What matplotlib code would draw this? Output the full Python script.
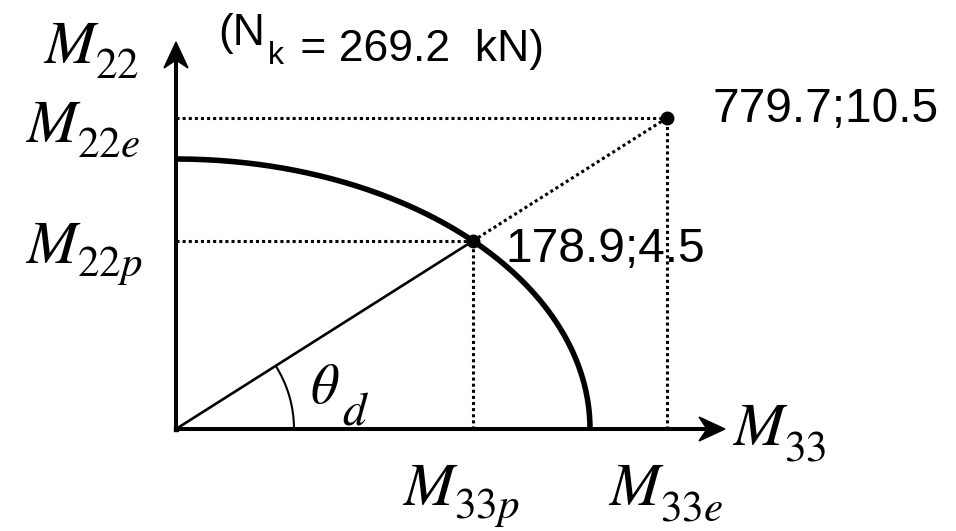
import numpy as np
import matplotlib
matplotlib.use('Agg')
import matplotlib.pyplot as plt
from matplotlib.patches import Arc, Polygon

plt.rcParams['font.family'] = ['Liberation Sans', 'DejaVu Sans']
plt.rcParams['mathtext.fontset'] = 'stix'

# axial load of the section
n_k = 269.2

# moments (kNm): [plastic, elastic]
m33 = [178.9, 779.7]
m22 = [4.5, 10.5]

# schematic layout of the interaction diagram (drawing units)
cap_33, cap_22 = 414, 270          # intercepts of the capacity curve
elastic_pt = (491, 311)            # elastic demand point
axis_len_33, axis_len_22 = 549, 387

fig = plt.figure(figsize=(9.56, 5.31), dpi=100)
ax = fig.add_axes([0, 0, 1, 1])
ax.set_xlim(-176, 780)
ax.set_ylim(-102, 429)
ax.set_aspect('equal')
ax.axis('off')

# capacity curve: quarter ellipse
t = np.linspace(0, np.pi / 2, 200)
ax.plot(cap_33 * np.cos(t), cap_22 * np.sin(t), color='black', lw=4.0,
        solid_capstyle='butt', zorder=3)

# plastic point = where the demand ray crosses the curve
ex, ey = elastic_pt
s = 1.0 / np.sqrt((ex / cap_33) ** 2 + (ey / cap_22) ** 2)
px, py = ex * s, ey * s

dot = dict(color='black', lw=2.2, linestyle=(0, (1, 1)), zorder=2)
ax.plot([0, px], [py, py], **dot)
ax.plot([px, px], [0, py], **dot)
ax.plot([0, ex], [ey, ey], **dot)
ax.plot([ex, ex], [0, ey], **dot)
ax.plot([px, ex], [py, ey], **dot)
ax.plot([0, px], [0, py], color='black', lw=1.9, zorder=3)
ax.plot([px, ex], [py, ey], 'o', color='black', ms=9, zorder=5)

# angle of the demand ray
theta = np.degrees(np.arctan2(ey, ex))
ax.add_patch(Arc((0, 0), 236, 236, theta1=0, theta2=theta,
                 color='black', lw=1.5))


def arrow_head(tip, direction, length=26, half_w=12, notch=8):
    d = np.array(direction, float)
    n = np.array([-d[1], d[0]])
    tip = np.array(tip, float)
    base = tip - d * length
    pts = [tip, base + n * half_w, tip - d * (length - notch), base - n * half_w]
    ax.add_patch(Polygon(pts, closed=True, color='black', zorder=4))


# axes
ax.plot([0, axis_len_33 - 10], [0, 0], color='black', lw=2.9,
        solid_capstyle='butt', zorder=4)
ax.plot([0, 0], [0, axis_len_22 - 10], color='black', lw=2.9,
        solid_capstyle='butt', zorder=4)
ax.plot([0], [0], 's', color='black', ms=2.5, zorder=4)
arrow_head((axis_len_33, 0), (1, 0))
arrow_head((0, axis_len_22), (0, 1))


def sym(x, y, main, sub, size=44, sub_size=31, drop=8, gap=-3):
    # symbol with a large subscript hung off its lower-right corner
    m = ax.text(x, y, '$' + main + '$', fontsize=size, va='baseline', ha='left')
    ax.annotate('$' + sub + '$', xy=(1, 0), xycoords=m, xytext=(gap, -drop),
                textcoords='offset points', fontsize=sub_size, va='bottom')


sym(-133, 366, 'M', '22')
sym(-151, 287, 'M', '22e')
sym(-151, 166, 'M', '22p')
sym(556, -16, 'M', '33')
sym(226, -76, 'M', '33p')
sym(432, -76, 'M', '33e')
sym(134, 26, r'\theta', 'd', size=40, sub_size=34, drop=14, gap=2)

ax.text(537, 307, f'{m33[1]};{m22[1]}', fontsize=34.5, va='baseline', ha='left')
ax.text(329, 167, f'{m33[0]};{m22[0]}', fontsize=34.5, va='baseline', ha='left')

# axial load note, with subscript k
t1 = ax.text(42, 384, '(N', fontsize=32, va='baseline', ha='left')
t2 = ax.annotate('k', xy=(1, 0), xycoords=t1, xytext=(2, -7),
                 textcoords='offset points', fontsize=23, va='baseline')
ax.annotate(f' = {n_k}  kN)', xy=(1, 0), xycoords=t2, xytext=(3, 7),
            textcoords='offset points', fontsize=32, va='baseline')

fig.savefig('out.png', dpi=100)
